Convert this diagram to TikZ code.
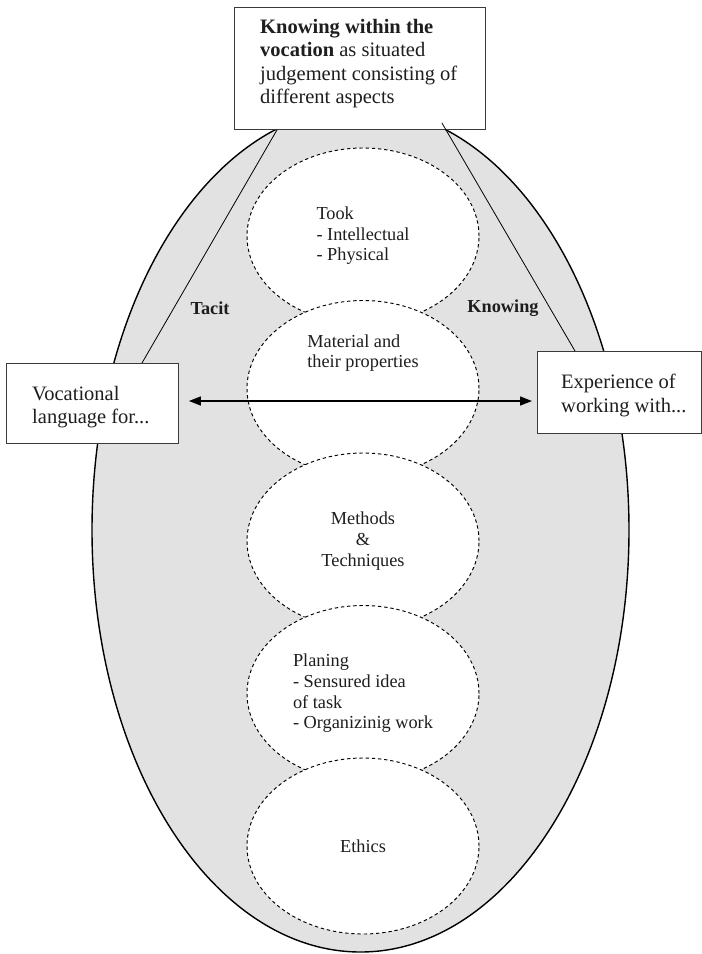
\documentclass[tikz,border=0pt]{standalone}
\usepackage{fontspec}
\setmainfont{Liberation Serif}
\usetikzlibrary{shapes.geometric,arrows.meta}
\definecolor{fieldgray}{HTML}{E2E2E2}
\definecolor{boxline}{HTML}{3A3A3A}
\definecolor{ink}{HTML}{1E1E1E}
\begin{document}
\begin{tikzpicture}[x=1pt,y=-1pt,
  boxtxt/.style={font=\fontsize{20.5}{23.5}\selectfont, text=ink, align=left, inner sep=0pt, anchor=north west},
  frame/.style={draw=boxline, line width=0.9pt, fill=white, inner sep=0pt, anchor=north west},
  aspect/.style={ellipse, draw=black, dash pattern=on 3.4pt off 2.8pt, line width=0.95pt,
    fill=white, minimum width=232pt, minimum height=176pt, inner sep=0pt, text=ink,
    font=\fontsize{18.3}{20.6}\selectfont},
  aspecttxt/.style={font=\fontsize{18.3}{20.6}\selectfont, text=ink, inner sep=0pt},
  side/.style={font=\fontsize{18.3}{20.6}\selectfont\bfseries, text=ink, inner sep=0pt},
  link/.style={draw=black, line width=0.8pt},
  twoway/.style={line width=1.4pt, >={Triangle[length=12pt,width=9pt]}, <->}
]
\useasboundingbox (0,0) rectangle (702,954);

% the field of tacit knowing
\node[ellipse, draw=black, line width=1.4pt, fill=fieldgray, minimum width=537pt,
      minimum height=844pt, inner sep=0pt] (field) at (360.5,530) {};

% aspects of knowing, stacked from top to bottom
\node[aspect, align=left] (e1) at (363,236) {Took\\- Intellectual\\- Physical};
\node[aspect] (e2) at (363,388.5) {};
\node[aspecttxt, align=left] (t2) at (363,353) {Material and\\their properties};
\node[aspect, align=center] (e3) at (363,541) {Methods\\\&\\Techniques};
\node[aspect, align=left] (e4) at (363,693.5) {Planing\\- Sensured idea\\of task\\- Organizinig work};
\node[aspect] (e5) at (363,846) {Ethics};

% side labels
\node[side] (tacit) at (210,308) {Tacit};
\node[side] (knowing) at (503,308) {Knowing};

% boxes
\node[frame, minimum width=251pt, minimum height=122pt] (tb) at (234,7) {};
\node[frame, minimum width=172pt, minimum height=80pt] (lb) at (6,363) {};
\node[frame, minimum width=164pt, minimum height=82pt] (rb) at (537,351) {};

\node[boxtxt] (tbt) at (260,19) {\textbf{Knowing within the}\\\textbf{vocation} as situated\\judgement consisting of\\different aspects};
\node[boxtxt] (lbt) at (32,386) {Vocational\\language for...};
\node[boxtxt] (rbt) at (561,374) {Experience of\\working with...};

% slanted connectors from the top box to the side boxes
\draw[link] ([xshift=43pt]tb.south west) -- ([xshift=136pt]lb.north west);
\draw[link] ([xshift=-44pt,yshift=7pt]tb.south east) -- ([xshift=38pt]rb.north west);

% double arrow between the side boxes
\coordinate (row) at (0,401);
\draw[twoway, shorten <=10pt, shorten >=5pt] (lb.east |- row) -- (rb.west |- row);
\end{tikzpicture}
\end{document}
